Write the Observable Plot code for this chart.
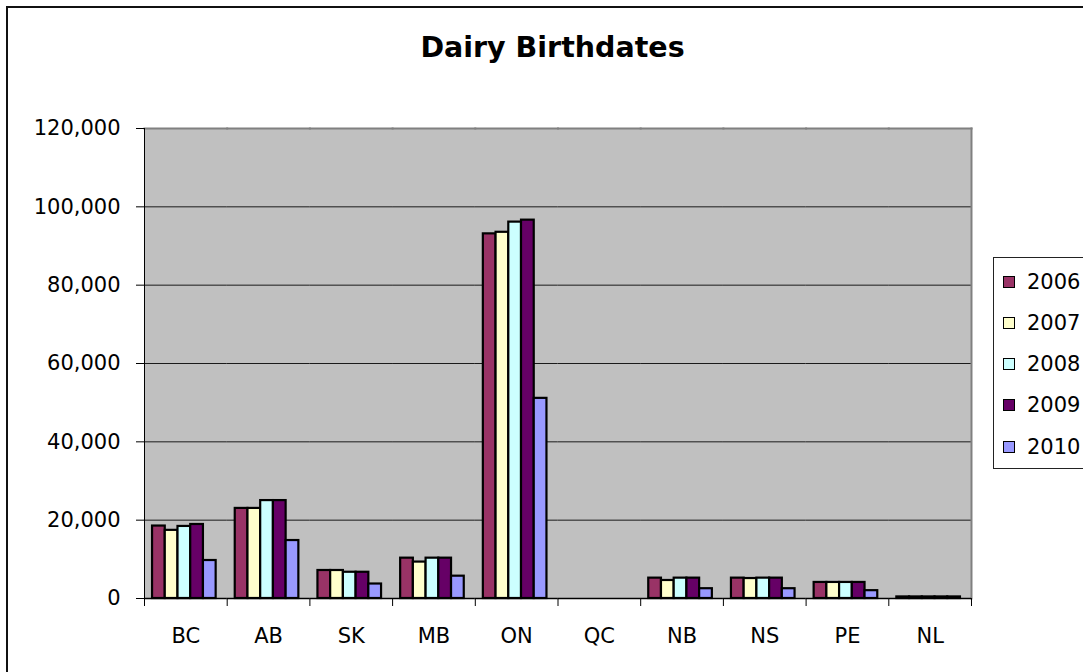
<!DOCTYPE html>
<html><head><meta charset="utf-8">
<script src="https://cdn.jsdelivr.net/npm/d3@7"></script>
<script src="https://cdn.jsdelivr.net/npm/@observablehq/plot@0.6"></script>
<style>
html,body{margin:0;padding:0;background:#fff;overflow:hidden;width:1083px;height:672px;}
#wrap{position:relative;width:1083px;height:672px;font-family:Tahoma,"DejaVu Sans",Verdana,sans-serif;color:#000;}
#border{position:absolute;left:6px;top:6px;width:1200px;height:800px;border:2px solid #111;}
#title{position:absolute;left:0;width:1105px;top:34px;text-align:center;font-weight:bold;font-size:28.5px;line-height:28.5px;}
#chart{position:absolute;left:0;top:0;}
#legend{position:absolute;left:993px;top:257px;width:140px;height:210px;border:1px solid #222;background:#fff;}
.sw{position:absolute;left:9px;width:10px;height:10px;border:1px solid #000;}
.lab{position:absolute;left:33px;font-size:21px;line-height:21px;white-space:nowrap;}
</style>
</head><body>
<div id="wrap">
  <div id="border"></div>
  <div id="chart"></div>
  <div id="title">Dairy Birthdates</div>
  <div id="legend"></div>
</div>
<script>
const provinces = ["BC","AB","SK","MB","ON","QC","NB","NS","PE","NL"];
const years = ["2006","2007","2008","2009","2010"];
const v2006 = [18500, 23000, 7150, 10300, 93100, null, 5200, 5200, 4100, 400];
const v2007 = [17400, 23000, 7150, 9300, 93500, null, 4600, 5100, 4100, 400];
const v2008 = [18400, 25000, 6700, 10300, 96100, null, 5200, 5200, 4100, 400];
const v2009 = [18900, 25000, 6700, 10300, 96600, null, 5200, 5200, 4100, 400];
const v2010 = [9700, 14800, 3700, 5700, 51100, null, 2500, 2500, 2000, 400];
const yTicks = [0, 20000, 40000, 60000, 80000, 100000, 120000];
const colors = ["#993366", "#FFFFCC", "#CCFFFF", "#660066", "#9999FF"];

const series = [v2006, v2007, v2008, v2009, v2010];
const rows = [];
years.forEach((yr, j) => {
  provinces.forEach((p, i) => {
    rows.push({province: p, year: yr, value: series[j][i]});
  });
});

const W = 1083, H = 672, mL = 144, mR = 112, mT = 128, mB = 74;
const innerH = H - mT - mB;
const font = 'Tahoma, "DejaVu Sans", Verdana, sans-serif';

const chart = Plot.plot({
  width: W, height: H,
  marginLeft: mL, marginRight: mR, marginTop: mT, marginBottom: mB,
  style: {fontFamily: font, fontSize: "21px", background: "transparent", color: "#000", overflow: "visible"},
  fx: {domain: provinces, padding: 0, round: false, label: null, axis: null},
  x: {domain: years, paddingInner: 0, paddingOuter: 0.75, round: false, axis: null},
  y: {domain: [0, 120000], axis: null},
  color: {domain: years, range: colors},
  marks: [
    Plot.frame({fill: "#c0c0c0", stroke: "none", shapeRendering: "crispEdges"}),
    Plot.ruleY(yTicks.slice(1, -1), {stroke: "#1a1a1a", strokeWidth: 1}),
    Plot.frame({anchor: "top", stroke: "#808080", strokeWidth: 2}),
    Plot.frame({anchor: "right", facetAnchor: "right", stroke: "#808080", strokeWidth: 2}),
    Plot.barY(rows, {fx: "province", x: "year", y: "value", fill: "year", stroke: "#000", strokeWidth: 2.2, dx: -1.5}),
    Plot.frame({anchor: "left", facetAnchor: "left", stroke: "#000"}),
    Plot.frame({anchor: "left", insetTop: innerH, insetBottom: -7, stroke: "#000"}),
    Plot.frame({anchor: "right", facetAnchor: "right", insetTop: innerH, insetBottom: -7, stroke: "#000"}),
    Plot.ruleY([0], {stroke: "#000", strokeWidth: 1.5}),
    Plot.axisY({ticks: yTicks, tickFormat: d3.format(","), tickSize: 8, tickPadding: 16, label: null, facetAnchor: "left"}),
    Plot.axisFx({anchor: "bottom", tickSize: 0, tickPadding: 30, label: null})
  ]
});
document.getElementById("chart").appendChild(chart);

const legend = document.getElementById("legend");
years.forEach((yr, j) => {
  const c = 23.7 + 41.25 * j;
  const sw = document.createElement("div");
  sw.className = "sw";
  sw.style.top = (c - 6) + "px";
  sw.style.background = colors[j];
  legend.appendChild(sw);
  const lab = document.createElement("div");
  lab.className = "lab";
  lab.style.top = (c - 10.2) + "px";
  lab.textContent = yr;
  legend.appendChild(lab);
});
</script>
</body></html>
